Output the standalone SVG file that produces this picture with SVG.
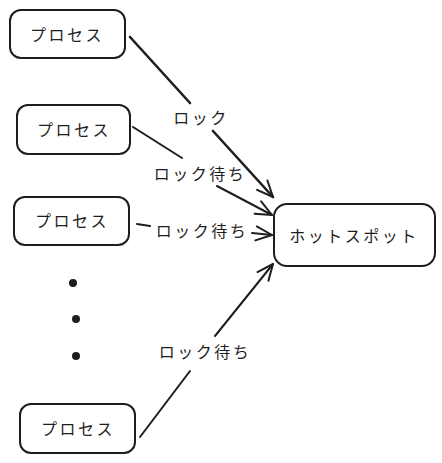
<svg xmlns="http://www.w3.org/2000/svg" width="442" height="463" viewBox="0 0 442 463">
<style>
.box{fill:#fff;stroke:#1e1e1e;stroke-width:2}
.t{font-family:"Noto Sans CJK JP","Noto Sans",sans-serif;font-size:16px;fill:#1e1e1e;text-anchor:middle;dominant-baseline:central;letter-spacing:2.5px}
.e{fill:none;stroke:#1e1e1e;stroke-width:2;stroke-linecap:round}
.ah{fill:none;stroke:#1e1e1e;stroke-width:2;stroke-linecap:round;stroke-linejoin:round}
</style>
<defs>
<marker id="arr" viewBox="0 0 20 20" refX="18" refY="10" markerWidth="20" markerHeight="20" markerUnits="userSpaceOnUse" orient="auto">
<polyline class="ah" points="2,3 18,10 2,17"/>
</marker>
</defs>
<rect width="442" height="463" fill="#fff"/>
<g id="connectors">
<line class="e" x1="130" y1="37" x2="190" y2="103" style="stroke-width:2.6"/>
<line class="e" x1="213" y1="131" x2="273" y2="197" marker-end="url(#arr)" style="stroke-width:2.6"/>
<line class="e" x1="133" y1="127" x2="182" y2="158"/>
<line class="e" x1="217" y1="186" x2="272" y2="215" marker-end="url(#arr)"/>
<line class="e" x1="137" y1="224" x2="150" y2="226"/>
<line class="e" x1="252" y1="233" x2="272" y2="235" marker-end="url(#arr)"/>
<line class="e" x1="140" y1="437" x2="190" y2="371"/>
<line class="e" x1="215" y1="336" x2="273" y2="264" marker-end="url(#arr)"/>
<text class="t" x="201" y="117">ロック</text>
<text class="t" x="200" y="173">ロック待ち</text>
<text class="t" x="202" y="230">ロック待ち</text>
<text class="t" x="205" y="351">ロック待ち</text>
</g>
<g id="p1"><rect class="box" x="10" y="10" width="115" height="48" rx="11"/><text class="t" x="67" y="34">プロセス</text></g>
<g id="p2"><rect class="box" x="17" y="105" width="113" height="49" rx="11"/><text class="t" x="74" y="129">プロセス</text></g>
<g id="p3"><rect class="box" x="14" y="197" width="115" height="48" rx="11"/><text class="t" x="72" y="220">プロセス</text></g>
<g id="p4"><rect class="box" x="20" y="404" width="115" height="49" rx="11"/><text class="t" x="78" y="428">プロセス</text></g>
<g id="hotspot"><rect class="box" x="274" y="204" width="161" height="62" rx="13"/><text class="t" x="354" y="235">ホットスポット</text></g>
<g id="dots" fill="#1e1e1e">
<circle cx="73" cy="283" r="4"/>
<circle cx="76" cy="319" r="4"/>
<circle cx="76" cy="356" r="4"/>
</g>
</svg>
